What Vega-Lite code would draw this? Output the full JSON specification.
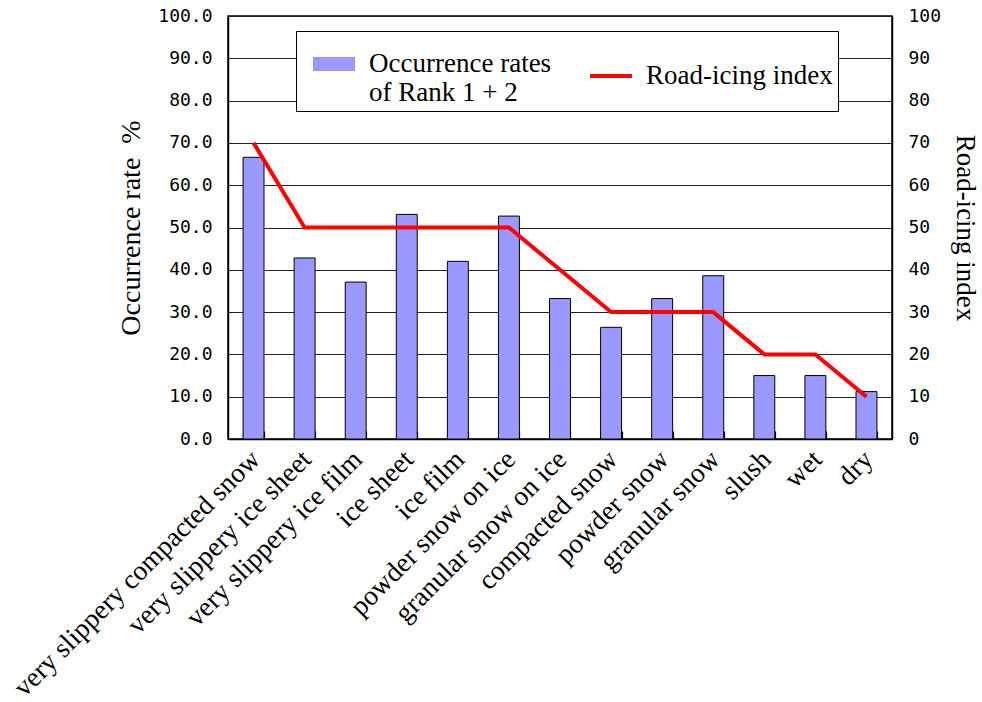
{
  "$schema": "https://vega.github.io/schema/vega-lite/v6.json",
  "autosize": {"type": "none"},
  "padding": {"left": 228, "top": 16, "right": 90, "bottom": 263},
  "width": 664,
  "height": 423,
  "background": "white",
  "config": {
    "view": {"stroke": "black", "strokeWidth": 1.5},
    "font": "Liberation Serif",
    "legend": {
      "orient": "none",
      "legendX": 68,
      "legendY": 15,
      "direction": "horizontal",
      "columns": 2,
      "columnPadding": 26,
      "padding": 5,
      "symbolOffset": 5,
      "strokeColor": "black",
      "fillColor": "white",
      "symbolSize": 1764,
      "symbolType": "stroke",
      "labelOffset": 7,
      "labelFont": "Liberation Serif",
      "labelFontSize": 27,
      "labelColor": "black",
      "labelLineHeight": 31,
      "labelLimit": 400
    }
  },
  "data": {
    "values": [
      {"surface": "very slippery compacted snow", "rate": 66.6, "index": 70},
      {"surface": "very slippery ice sheet", "rate": 42.8, "index": 50},
      {"surface": "very slippery ice film", "rate": 37.1, "index": 50},
      {"surface": "ice sheet", "rate": 53.1, "index": 50},
      {"surface": "ice film", "rate": 42.0, "index": 50},
      {"surface": "powder snow on ice", "rate": 52.7, "index": 50},
      {"surface": "granular snow on ice", "rate": 33.2, "index": 40},
      {"surface": "compacted snow", "rate": 26.4, "index": 30},
      {"surface": "powder snow", "rate": 33.2, "index": 30},
      {"surface": "granular snow", "rate": 38.6, "index": 30},
      {"surface": "slush", "rate": 15.0, "index": 20},
      {"surface": "wet", "rate": 15.0, "index": 20},
      {"surface": "dry", "rate": 11.2, "index": 10}
    ]
  },
  "encoding": {
    "x": {
      "field": "surface",
      "type": "nominal",
      "sort": null,
      "scale": {"paddingInner": 0.59, "paddingOuter": 0.295},
      "axis": {
        "title": null,
        "labelAngle": -45,
        "labelFont": "Liberation Serif",
        "labelFontSize": 27.5,
        "labelColor": "black",
        "labelPadding": 14,
        "labelOffset": -8,
        "labelLimit": 500,
        "domainColor": "black",
        "domainWidth": 1.5,
        "tickBand": "extent",
        "tickSize": -8,
        "tickColor": "black",
        "tickWidth": 1.2
      }
    }
  },
  "layer": [
    {
      "mark": {"type": "bar", "stroke": "black", "strokeWidth": 1},
      "encoding": {
        "y": {
          "field": "rate",
          "type": "quantitative",
          "scale": {"domain": [0, 100], "nice": false},
          "axis": {
            "title": "Occurrence rate\u00a0\u00a0%",
            "titleFont": "Liberation Serif",
            "titleFontSize": 28,
            "titleFontWeight": "normal",
            "titleColor": "black",
            "titlePadding": 12,
            "values": [0, 10, 20, 30, 40, 50, 60, 70, 80, 90, 100],
            "format": ".1f",
            "labelFont": "DejaVu Sans Mono",
            "labelFontSize": 18,
            "labelColor": "black",
            "labelPadding": 16,
            "ticks": false,
            "domainColor": "black",
            "domainWidth": 1.5,
            "grid": true,
            "gridColor": "#222222",
            "gridWidth": 1.2
          }
        },
        "fill": {
          "datum": "Occurrence rates|of Rank 1 + 2",
          "type": "nominal",
          "scale": {
            "domain": ["Occurrence rates|of Rank 1 + 2", "Road-icing index"],
            "range": ["#9999ff", "transparent"]
          },
          "legend": {
            "title": null,
            "labelExpr": "split(datum.label, '|')"
          }
        }
      }
    },
    {
      "mark": {"type": "line"},
      "encoding": {
        "y": {
          "field": "index",
          "type": "quantitative",
          "scale": {"domain": [0, 100], "nice": false},
          "axis": {
            "orient": "right",
            "title": "Road-icing index",
            "titleFont": "Liberation Serif",
            "titleFontSize": 27,
            "titleFontWeight": "normal",
            "titleColor": "black",
            "titlePadding": 10,
            "values": [0, 10, 20, 30, 40, 50, 60, 70, 80, 90, 100],
            "labelFont": "DejaVu Sans Mono",
            "labelFontSize": 18,
            "labelColor": "black",
            "labelPadding": 16,
            "ticks": false,
            "domainColor": "black",
            "domainWidth": 1.5,
            "grid": false
          }
        },
        "stroke": {
          "datum": "Road-icing index",
          "type": "nominal",
          "scale": {
            "domain": ["Occurrence rates|of Rank 1 + 2", "Road-icing index"],
            "range": ["#9999ff", "#ff0000"]
          },
          "legend": {
            "title": null,
            "labelExpr": "split(datum.label, '|')"
          }
        },
        "strokeWidth": {
          "datum": "Road-icing index",
          "type": "ordinal",
          "scale": {
            "domain": ["Occurrence rates|of Rank 1 + 2", "Road-icing index"],
            "range": [14, 4]
          },
          "legend": {
            "title": null,
            "labelExpr": "split(datum.label, '|')"
          }
        }
      }
    }
  ],
  "resolve": {"scale": {"y": "independent"}}
}
